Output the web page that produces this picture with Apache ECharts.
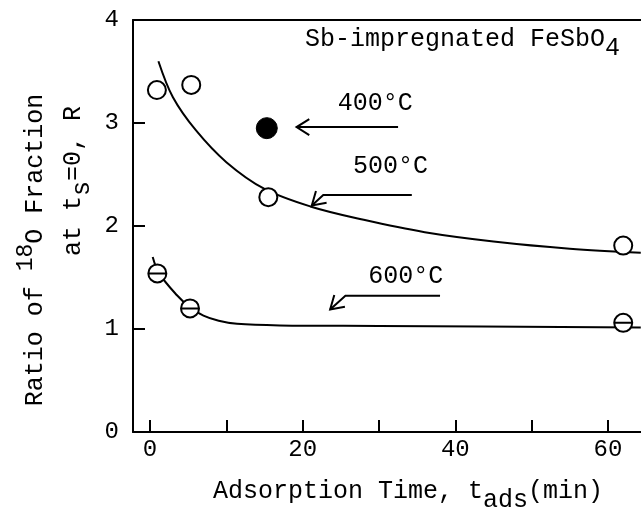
<!DOCTYPE html>
<html><head><meta charset="utf-8">
<script src="https://cdn.jsdelivr.net/npm/echarts@6/dist/echarts.min.js"></script>
<style>html,body{margin:0;padding:0;background:#fff}#c{width:641px;height:509px}</style>
</head><body><div id="c"></div>
<script>
// ---- data ----
const xTickValues = [0, 10, 20, 30, 40, 50, 60];
const xLabelValues = [0, 20, 40, 60];

const t500 = [0.9, 5.4, 15.5, 62.0];
const r500 = [3.32, 3.37, 2.28, 1.81];
const t400 = [15.3];
const r400 = [2.95];
const t600 = [0.96, 5.24, 62.0];
const r600 = [1.54, 1.20, 1.06];

const fit500T = [1.1, 3.0, 6.0, 10.0, 15.0, 21.0, 28.0, 36.0, 45.0, 55.0, 64.3];
const fit500R = [3.60, 3.25, 2.93, 2.62, 2.36, 2.19, 2.06, 1.94, 1.85, 1.78, 1.74];
const fit600T = [0.35, 1.2, 3.5, 5.24, 7.0, 9.0, 11.4, 17.0, 30.0, 64.3];
const fit600R = [1.70, 1.54, 1.33, 1.21, 1.13, 1.08, 1.05, 1.035, 1.03, 1.015];

const annoText = ['400°C', '500°C', '600°C'];
const annoTextPos = [[29.5, 3.19], [31.5, 2.58], [33.5, 1.51]];
const annoArrows = [
  [[32.5, 2.96], [19.2, 2.96]],
  [[34.3, 2.30], [22.7, 2.30], [21.2, 2.20]],
  [[38.0, 1.323], [25.6, 1.323], [23.6, 1.19]]
];

// ---- chart ----
const FONT = '"Liberation Mono", "DejaVu Sans Mono", monospace';
const zip = (a, b) => a.map((v, i) => [v, b[i]]);
const chart = echarts.init(document.getElementById('c'), null, {renderer: 'canvas'});
const thetaPath = 'path://M0,10 A10,10 0 1,1 20,10 A10,10 0 1,1 0,10 Z M0,10 L20,10';
const subRich = {
  m: {fontFamily: FONT, fontSize: 25, lineHeight: 26, verticalAlign: 'top', fill: '#000'},
  s: {fontFamily: FONT, fontSize: 25, lineHeight: 34, verticalAlign: 'bottom', fill: '#000'}
};

chart.setOption({
  animation: false,
  backgroundColor: '#fff',
  grid: {left: 133, right: 0, top: 20, bottom: 77, containLabel: false},
  xAxis: [{
    type: 'value', min: -2.23, max: 64.33, position: 'bottom',
    axisLine: {show: true, onZero: false, lineStyle: {color: '#000', width: 2}},
    axisTick: {show: true, inside: true, length: 12, customValues: xTickValues, lineStyle: {color: '#000', width: 2}},
    axisLabel: {show: true, customValues: xLabelValues, margin: 6, color: '#000', fontFamily: FONT, fontSize: 24},
    splitLine: {show: false}
  }, {
    type: 'value', min: -2.23, max: 64.33, position: 'top',
    axisLine: {show: true, onZero: false, lineStyle: {color: '#000', width: 2}},
    axisTick: {show: false}, axisLabel: {show: false}, splitLine: {show: false}
  }],
  yAxis: {
    type: 'value', min: 0, max: 4, interval: 1,
    axisLine: {show: true, onZero: false, lineStyle: {color: '#000', width: 2}},
    axisTick: {show: true, inside: true, length: 12, lineStyle: {color: '#000', width: 2}},
    axisLabel: {margin: 14, color: '#000', fontFamily: FONT, fontSize: 24},
    splitLine: {show: false}
  },
  graphic: [
    {type: 'text', x: 305, y: 27, z: 10, style: {
      text: '{m|Sb-impregnated FeSbO}{s|4}', verticalAlign: 'top', align: 'left', rich: subRich}},
    {type: 'text', x: 213, y: 479, z: 10, style: {
      text: '{m|Adsorption Time, t}{s|ads}{m|(min)}', verticalAlign: 'top', align: 'left', rich: subRich}},
    {type: 'text', x: 31, y: 250, rotation: Math.PI / 2, z: 10, style: {
      text: '{m|Ratio of }{p|18}{m|O Fraction}', verticalAlign: 'middle', align: 'center',
      rich: {m: {fontFamily: FONT, fontSize: 25, lineHeight: 26, verticalAlign: 'bottom', fill: '#000'},
             p: {fontFamily: FONT, fontSize: 23, lineHeight: 33, verticalAlign: 'top', fill: '#000'}}}},
    {type: 'text', x: 78, y: 181, rotation: Math.PI / 2, z: 10, style: {
      text: '{m|at t}{s|s}{m|=0, R}', verticalAlign: 'middle', align: 'center', rich: subRich}}
  ],
  series: [
    {type: 'line', data: zip(fit500T, fit500R), showSymbol: false, smooth: 0.35,
     lineStyle: {color: '#000', width: 2}, z: 2, silent: true},
    {type: 'line', data: zip(fit600T, fit600R), showSymbol: false, smooth: 0.35,
     lineStyle: {color: '#000', width: 2}, z: 2, silent: true},
    {type: 'scatter', data: zip(t500, r500), symbol: 'circle', symbolSize: 18,
     itemStyle: {color: '#fff', borderColor: '#000', borderWidth: 2, opacity: 1}, z: 5},
    {type: 'scatter', data: zip(t400, r400), symbol: 'circle', symbolSize: 21,
     itemStyle: {color: '#000', borderColor: '#000', borderWidth: 1, opacity: 1}, z: 5},
    {type: 'scatter', data: zip(t600, r600), symbol: thetaPath, symbolSize: 18,
     itemStyle: {color: '#fff', borderColor: '#000', borderWidth: 2, opacity: 1}, z: 5},
    {type: 'custom', clip: false, z: 6,
     data: annoTextPos.map((p, i) => [p[0], p[1], i]),
     encode: {x: 0, y: 1},
     renderItem: function (params, api) {
       const i = api.value(2);
       const pts = annoArrows[i].map(p => api.coord(p));
       const tip = pts[pts.length - 1], prev = pts[pts.length - 2];
       let dx = prev[0] - tip[0], dy = prev[1] - tip[1];
       const L = Math.hypot(dx, dy); dx /= L; dy /= L;
       const len = 15, ang = 32 * Math.PI / 180;
       const rot = (a) => [tip[0] + len * (dx * Math.cos(a) - dy * Math.sin(a)),
                           tip[1] + len * (dx * Math.sin(a) + dy * Math.cos(a))];
       const tp = api.coord([api.value(0), api.value(1)]);
       return {type: 'group', children: [
         {type: 'polyline', shape: {points: pts}, style: {stroke: '#000', lineWidth: 2, fill: null}},
         {type: 'polyline', shape: {points: [rot(ang), tip, rot(-ang)]}, style: {stroke: '#000', lineWidth: 2, fill: null}},
         {type: 'text', x: tp[0], y: tp[1], style: {text: annoText[i], fontFamily: FONT, fontSize: 25,
           align: 'center', verticalAlign: 'middle', fill: '#000'}}
       ]};
     }}
  ]
});
</script></body></html>
